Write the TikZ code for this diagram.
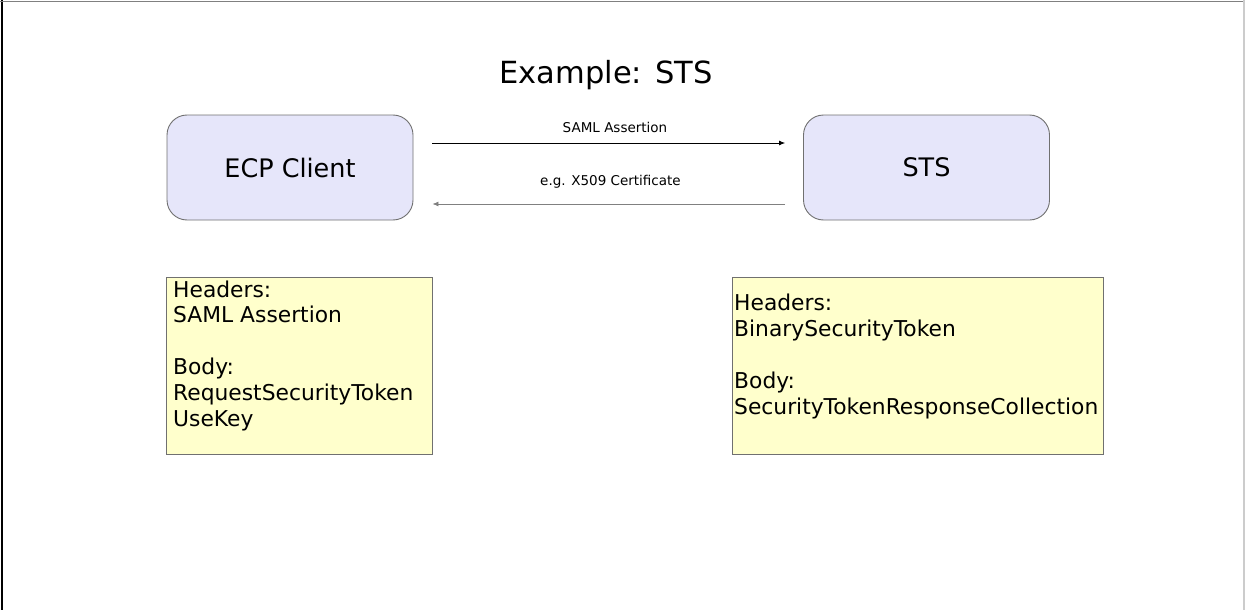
\documentclass[tikz,border=0pt]{standalone}
\usepackage{fontspec}
\setmainfont{DejaVu Sans}
\usetikzlibrary{arrows.meta}
\definecolor{boxblue}{HTML}{E6E6FA}
\definecolor{noteyellow}{HTML}{FFFFCC}
\definecolor{edgegray}{HTML}{707070}
\tikzset{
  actor/.style={draw=edgegray, line width=0.9pt, fill=boxblue, rounded corners=20pt,
    minimum width=246pt, minimum height=105pt, inner sep=0pt,
    font=\fontsize{25.5}{30}\selectfont},
  note/.style={draw=edgegray, line width=0.9pt, fill=noteyellow, anchor=north west,
    minimum height=177pt, inner sep=0pt},
  % multi-line text: the base anchor sits on the last line's baseline
  notetext/.style={anchor=base west, align=left, inner sep=0pt,
    font=\fontsize{21.8}{25.8}\selectfont},
  msg/.style={line width=0.8pt, -{Latex[length=6pt,width=5pt]}},
  msglabel/.style={anchor=base, inner sep=0pt, font=\fontsize{13.5}{16}\selectfont},
}
\begin{document}
\begin{tikzpicture}[x=1pt, y=-1pt]
  \useasboundingbox (0,0) rectangle (1245,610);
  % page frame
  \draw[black, line width=1.5pt] (2,0) -- (2,610);
  \draw[gray, line width=1.2pt] (0,1.5) -- (1245,1.5);
  \draw[gray!40, line width=1.2pt] (1244,0) -- (1244,610);

  % title
  \node[anchor=base, inner sep=0pt, font=\fontsize{30.5}{37}\selectfont] (title) at (606,83) {Example: STS};

  % parties
  \node[actor] (ecp) at (290,167.5) {ECP Client};
  \node[actor] (sts) at (926.5,167.5) {STS};

  % messages
  \coordinate (up) at (0,143);
  \coordinate (down) at (0,204);
  \draw[msg, shorten <=19pt, shorten >=18pt] (ecp.east |- up) -- (sts.west |- up);
  \draw[msg, gray, shorten <=18pt, shorten >=19pt] (sts.west |- down) -- (ecp.east |- down);
  \node[msglabel] (lbl1) at (615,132) {SAML Assertion};
  \node[msglabel] (lbl2) at (610.5,185) {e.g. X509 Certificate};

  % message contents
  \node[note, minimum width=266pt] (req) at (166,277) {};
  \node[notetext] (reqtext) at (173,426)
    {Headers:\\SAML Assertion\\[25.8pt]Body:\\RequestSecurityToken\\UseKey};
  \node[note, minimum width=371pt] (resp) at (732,277) {};
  \node[notetext] (resptext) at (734,414)
    {Headers:\\BinarySecurityToken\\[25.8pt]Body:\\SecurityTokenResponseCollection};
\end{tikzpicture}
\end{document}
